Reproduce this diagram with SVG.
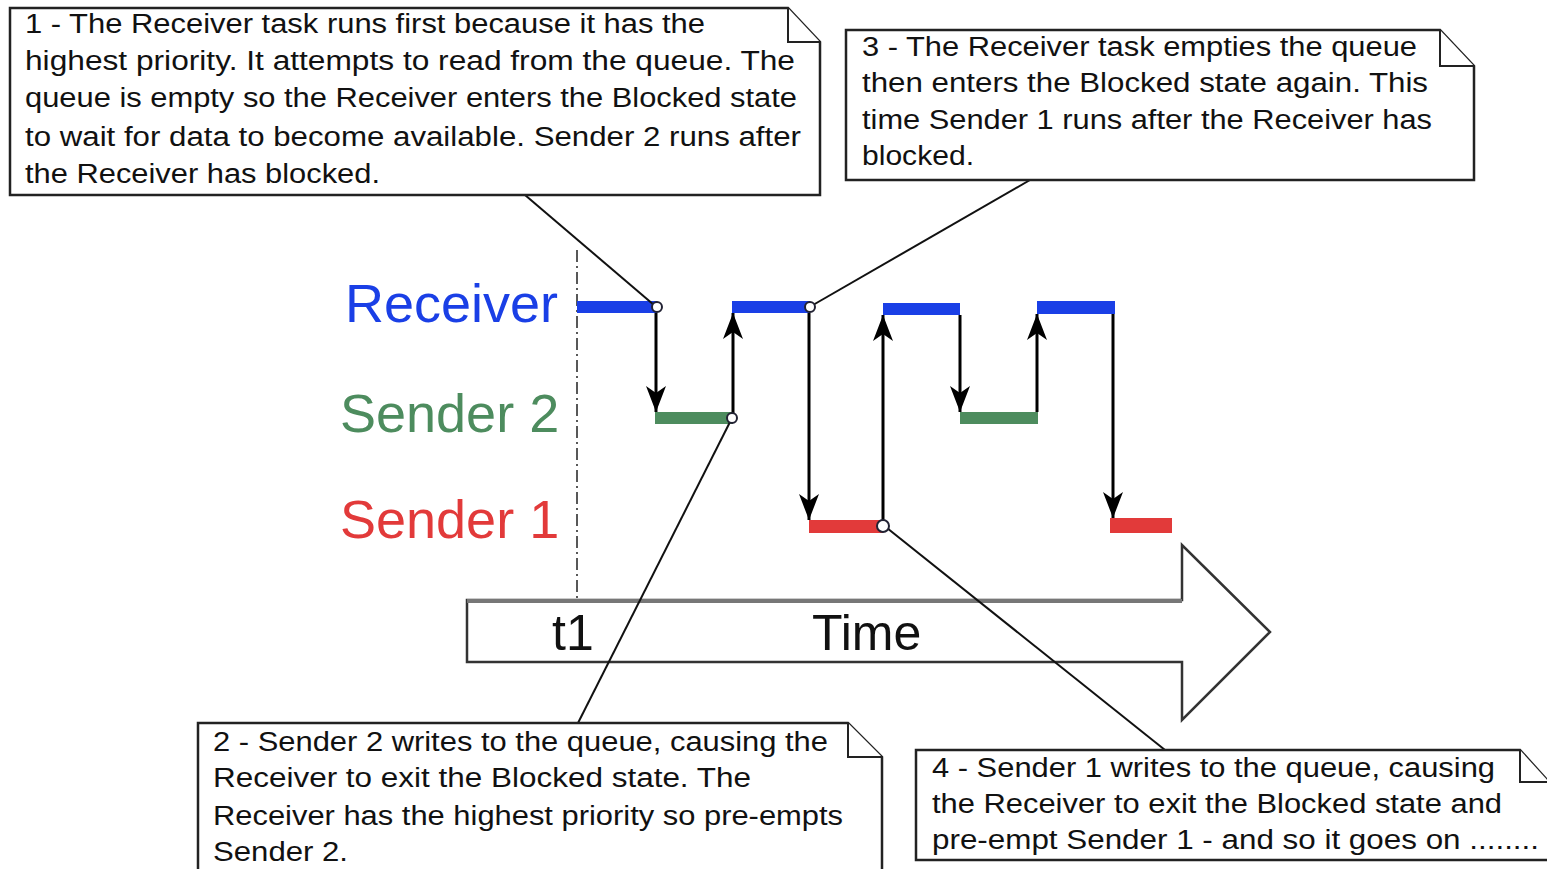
<svg xmlns="http://www.w3.org/2000/svg" width="1547" height="869" viewBox="0 0 1547 869">
  <defs>
    <marker id="head" viewBox="0 0 26 20" refX="26" refY="10" markerWidth="26" markerHeight="20" markerUnits="userSpaceOnUse" orient="auto">
      <path d="M0,0 L26,10 L0,20 L7,10 Z" fill="#000"/>
    </marker>
  </defs>
  <style>
    .note { fill: #fff; stroke: #222; stroke-width: 2.5; }
    .fold { fill: #fff; stroke: #222; stroke-width: 2; }
    .ntext { font-family: "Liberation Sans", Arial, sans-serif; font-size: 27px; fill: #111; }
    .label { font-family: "Liberation Sans", Arial, sans-serif; font-size: 54px; }
    .rx { fill: #1a3fe6; }
    .s2 { fill: #4d8c5e; }
    .s1 { fill: #e23a3a; }
    .flow { stroke: #000; stroke-width: 3; fill: none; marker-end: url(#head); }
    .lead { stroke: #111; stroke-width: 2; fill: none; }
    .dot { fill: #fff; stroke: #223; stroke-width: 2; }
    .axis { font-family: "Liberation Sans", Arial, sans-serif; font-size: 50px; fill: #111; }
  </style>
  <rect width="1547" height="869" fill="#fff"/>

  <!-- time axis arrow -->
  <g id="time-axis">
    <polygon points="467,600 1182,600 1182,545 1270,632 1182,720 1182,662 467,662" fill="#fff" stroke="#333" stroke-width="2.5"/>
    <line x1="467" y1="601" x2="1182" y2="601" stroke="#777" stroke-width="4"/>
    <text class="axis" x="552" y="650">t1</text>
    <text class="axis" x="812" y="650">Time</text>
  </g>

  <!-- t1 marker line -->
  <line x1="577" y1="250" x2="577" y2="600" stroke="#222" stroke-width="1.5" stroke-dasharray="12,4,2,4"/>

  <!-- task labels -->
  <g id="lbl-receiver"><text class="label rx" x="345" y="322">Receiver</text></g>
  <g id="lbl-sender2"><text class="label s2" x="340" y="432">Sender 2</text></g>
  <g id="lbl-sender1"><text class="label s1" x="340" y="538">Sender 1</text></g>

  <!-- running periods -->
  <g id="receiver-bars" class="rx">
    <rect x="577" y="301" width="80" height="12"/>
    <rect x="732" y="301" width="78" height="12"/>
    <rect x="883" y="303" width="77" height="12"/>
    <rect x="1037" y="301" width="78" height="13"/>
  </g>
  <g id="sender2-bars" class="s2">
    <rect x="655" y="412" width="78" height="12"/>
    <rect x="960" y="412" width="78" height="12"/>
  </g>
  <g id="sender1-bars" class="s1">
    <rect x="809" y="520" width="74" height="13"/>
    <rect x="1110" y="518" width="62" height="15"/>
  </g>

  <!-- context switches and note leaders -->
  <g id="connectors">
    <line class="flow" x1="656" y1="313" x2="656" y2="412"/>
    <line class="flow" x1="733" y1="418" x2="733" y2="313"/>
    <line class="flow" x1="809" y1="313" x2="809" y2="520"/>
    <line class="flow" x1="883" y1="525" x2="883" y2="315"/>
    <line class="flow" x1="960" y1="315" x2="960" y2="412"/>
    <line class="flow" x1="1037" y1="412" x2="1037" y2="314"/>
    <line class="flow" x1="1113" y1="314" x2="1113" y2="518"/>

    <line class="lead" x1="525" y1="195" x2="654" y2="305"/>
    <line class="lead" x1="1030" y1="180" x2="813" y2="305"/>
    <line class="lead" x1="578" y1="723" x2="730" y2="422"/>
    <line class="lead" x1="1165" y1="750" x2="887" y2="528"/>

    <circle class="dot" cx="657" cy="307" r="5"/>
    <circle class="dot" cx="810" cy="307" r="5"/>
    <circle class="dot" cx="732" cy="418" r="5"/>
    <circle class="dot" cx="883" cy="526" r="6"/>
  </g>

  <!-- note 1 -->
  <g id="note1">
    <path class="note" d="M10,8 H788 L820,42 V195 H10 Z"/>
    <path class="fold" d="M788,8 V42 H820"/>
    <text class="ntext" x="25" y="33" textLength="680" lengthAdjust="spacingAndGlyphs">1 - The Receiver task runs first because it has the</text>
    <text class="ntext" x="25" y="70" textLength="770" lengthAdjust="spacingAndGlyphs">highest priority.  It attempts to read from the queue.  The</text>
    <text class="ntext" x="25" y="107" textLength="772" lengthAdjust="spacingAndGlyphs">queue is empty so the Receiver enters the Blocked state</text>
    <text class="ntext" x="25" y="146" textLength="776" lengthAdjust="spacingAndGlyphs">to wait for data to become available.  Sender 2 runs after</text>
    <text class="ntext" x="25" y="183" textLength="355" lengthAdjust="spacingAndGlyphs">the Receiver has blocked.</text>
  </g>

  <!-- note 3 -->
  <g id="note3">
    <path class="note" d="M846,30 H1440 L1474,66 V180 H846 Z"/>
    <path class="fold" d="M1440,30 V66 H1474"/>
    <text class="ntext" x="862" y="56" textLength="555" lengthAdjust="spacingAndGlyphs">3 - The Receiver task empties the queue</text>
    <text class="ntext" x="862" y="92" textLength="566" lengthAdjust="spacingAndGlyphs">then enters the Blocked state again.  This</text>
    <text class="ntext" x="862" y="129" textLength="570" lengthAdjust="spacingAndGlyphs">time Sender 1 runs after the Receiver has</text>
    <text class="ntext" x="862" y="165" textLength="112" lengthAdjust="spacingAndGlyphs">blocked.</text>
  </g>

  <!-- note 2 -->
  <g id="note2">
    <path class="note" d="M198,723 H848 L882,757 V872 H198 Z"/>
    <path class="fold" d="M848,723 V757 H882"/>
    <text class="ntext" x="213" y="751" textLength="615" lengthAdjust="spacingAndGlyphs">2 - Sender 2 writes to the queue, causing the</text>
    <text class="ntext" x="213" y="787" textLength="538" lengthAdjust="spacingAndGlyphs">Receiver to exit the Blocked state.  The</text>
    <text class="ntext" x="213" y="825" textLength="630" lengthAdjust="spacingAndGlyphs">Receiver has the highest priority so pre-empts</text>
    <text class="ntext" x="213" y="861" textLength="135" lengthAdjust="spacingAndGlyphs">Sender 2.</text>
  </g>

  <!-- note 4 -->
  <g id="note4">
    <path class="note" d="M916,750 H1520 L1549,782 V860 H916 Z"/>
    <path class="fold" d="M1520,750 V782 H1549"/>
    <text class="ntext" x="932" y="777" textLength="563" lengthAdjust="spacingAndGlyphs">4 - Sender 1 writes to the queue, causing</text>
    <text class="ntext" x="932" y="813" textLength="570" lengthAdjust="spacingAndGlyphs">the Receiver to exit the Blocked state and</text>
    <text class="ntext" x="932" y="849" textLength="607" lengthAdjust="spacingAndGlyphs">pre-empt Sender 1 - and so it goes on ........</text>
  </g>
</svg>
